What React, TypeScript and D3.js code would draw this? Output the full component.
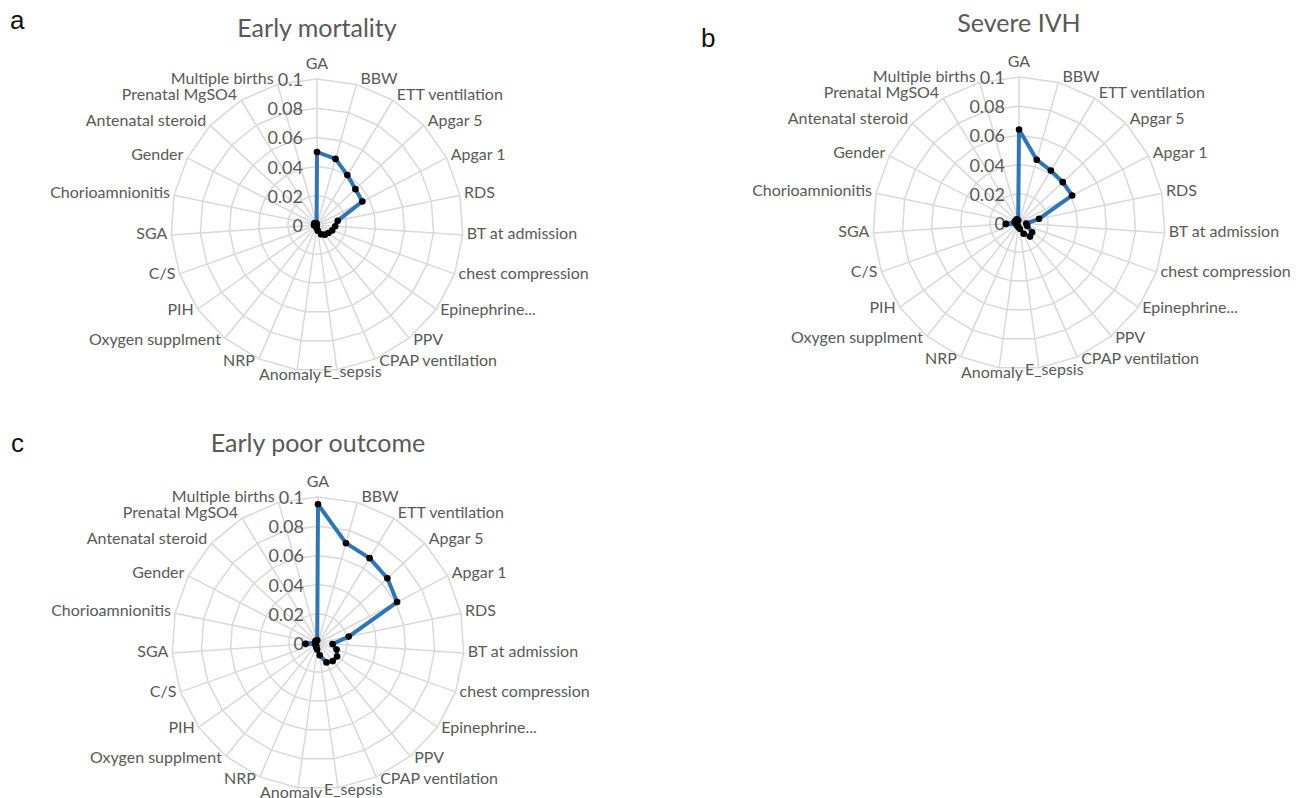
import * as d3 from "d3";

const categories = [
  "GA", "BBW", "ETT ventilation", "Apgar 5", "Apgar 1", "RDS", "BT at admission",
  "chest compression", "Epinephrine...", "PPV", "CPAP ventilation", "E_sepsis",
  "Anomaly", "NRP", "Oxygen supplment", "PIH", "C/S", "SGA", "Chorioamnionitis",
  "Gender", "Antenatal steroid", "Prenatal MgSO4", "Multiple births",
];

const earlyMortality = [
  0.05, 0.047, 0.04, 0.036, 0.035, 0.0145, 0.0125, 0.011, 0.0095, 0.0085, 0.007, 0.004,
  0.002, 0.001, 0.001, 0.001, 0.001, 0.002, 0.002, 0.002, 0.002, 0.001, 0.001,
];
const severeIVH = [
  0.064, 0.045, 0.042, 0.041, 0.041, 0.014, 0.005, 0.006, 0.011, 0.012, 0.008, 0.004,
  0.003, 0.002, 0.002, 0.002, 0.002, 0.009, 0.003, 0.003, 0.002, 0.003, 0.002,
];
const earlyPoorOutcome = [
  0.095, 0.071, 0.068, 0.065, 0.061, 0.0215, 0.01, 0.0135, 0.016, 0.016, 0.0145, 0.0085,
  0.0045, 0.003, 0.002, 0.002, 0.002, 0.0085, 0.002, 0.002, 0.002, 0.002, 0.002,
];
const tickValues = [0, 0.02, 0.04, 0.06, 0.08, 0.1];

const TEXT = "#595959";
const GRID = "#d9d9d9";
const LINE = "#2e75b6";
const FONT = "Lato, 'Open Sans', sans-serif";
const R = 146;

const rScale = d3.scaleLinear().domain([0, 0.1]).range([0, R]);
const aScale = d3
  .scaleLinear()
  .domain([0, categories.length])
  .range([0, 2 * Math.PI]);

type RadarProps = {
  cx: number;
  cy: number;
  title: string;
  titleY: number;
  values: number[];
};

const Radar = ({ cx, cy, title, titleY, values }: RadarProps) => {
  const radial = d3
    .lineRadial<number>()
    .angle((_, i) => aScale(i))
    .radius((d) => rScale(d))
    .curve(d3.curveLinearClosed);

  const point = (i: number, v: number) => {
    const a = aScale(i);
    return [Math.sin(a) * rScale(v), -Math.cos(a) * rScale(v)];
  };

  return (
    <g>
      <text
        x={cx}
        y={titleY}
        textAnchor="middle"
        dominantBaseline="central"
        fontFamily={FONT}
        fontSize={25}
        fill={TEXT}
      >
        {title}
      </text>
      <g transform={`translate(${cx},${cy})`}>
        {tickValues.slice(1).map((t) => (
          <path
            key={t}
            d={radial(categories.map(() => t)) || ""}
            fill="none"
            stroke={GRID}
            strokeWidth={1.5}
          />
        ))}
        {categories.map((c, i) => {
          const [x, y] = point(i, 0.1);
          return <line key={c} x1={0} y1={0} x2={x} y2={y} stroke={GRID} strokeWidth={1.5} />;
        })}
        {tickValues.map((t) => (
          <text
            key={t}
            x={-14}
            y={-rScale(t)}
            textAnchor="end"
            dominantBaseline="central"
            fontFamily={FONT}
            fontSize={18}
            fill={TEXT}
          >
            {d3.format("~g")(t)}
          </text>
        ))}
        {categories.map((c, i) => {
          const a = aScale(i);
          const dx = Math.sin(a);
          const dy = -Math.cos(a);
          const vx = dx * R;
          const vy = dy * R;
          let anchor = dx > 0 ? "start" : "end";
          let x = vx + (dx > 0 ? 4 : -4);
          let y = vy - 3 + 4 * dy;
          if (Math.abs(dx) < 0.05) {
            anchor = "middle";
            x = vx;
            y = vy - 17;
          } else if (Math.abs(dx) < 0.2 && dy > 0) {
            x = dx < 0 ? 4 : 6;
            y = vy + (dx < 0 ? 4 : 1);
          }
          return (
            <text
              key={c}
              x={x}
              y={y}
              textAnchor={anchor}
              dominantBaseline="central"
              fontFamily={FONT}
              fontSize={16}
              fill={TEXT}
            >
              {c}
            </text>
          );
        })}
        <path d={radial(values) || ""} fill="none" stroke={LINE} strokeWidth={4} strokeLinejoin="round" />
        {values.map((v, i) => {
          const [x, y] = point(i, v);
          return <circle key={i} cx={x} cy={y} r={3.3} fill="#000" />;
        })}
      </g>
    </g>
  );
};

const panelLetter = (x: number, y: number, s: string) => (
  <text x={x} y={y} dominantBaseline="central" fontFamily="'Liberation Sans', Arial, sans-serif" fontSize={26} fill="#111">
    {s}
  </text>
);

export default function App() {
  return (
    <svg
      width={1306}
      height={798}
      style={{ position: "absolute", left: 0, top: 0, background: "#fff" }}
    >
      <rect width={1306} height={798} fill="#fff" />
      {panelLetter(10, 20, "a")}
      {panelLetter(701, 38, "b")}
      {panelLetter(11, 443, "c")}
      <Radar cx={317} cy={225} title="Early mortality" titleY={27} values={earlyMortality} />
      <Radar cx={1019} cy={223} title="Severe IVH" titleY={22} values={severeIVH} />
      <Radar cx={318} cy={643} title="Early poor outcome" titleY={442} values={earlyPoorOutcome} />
    </svg>
  );
}
